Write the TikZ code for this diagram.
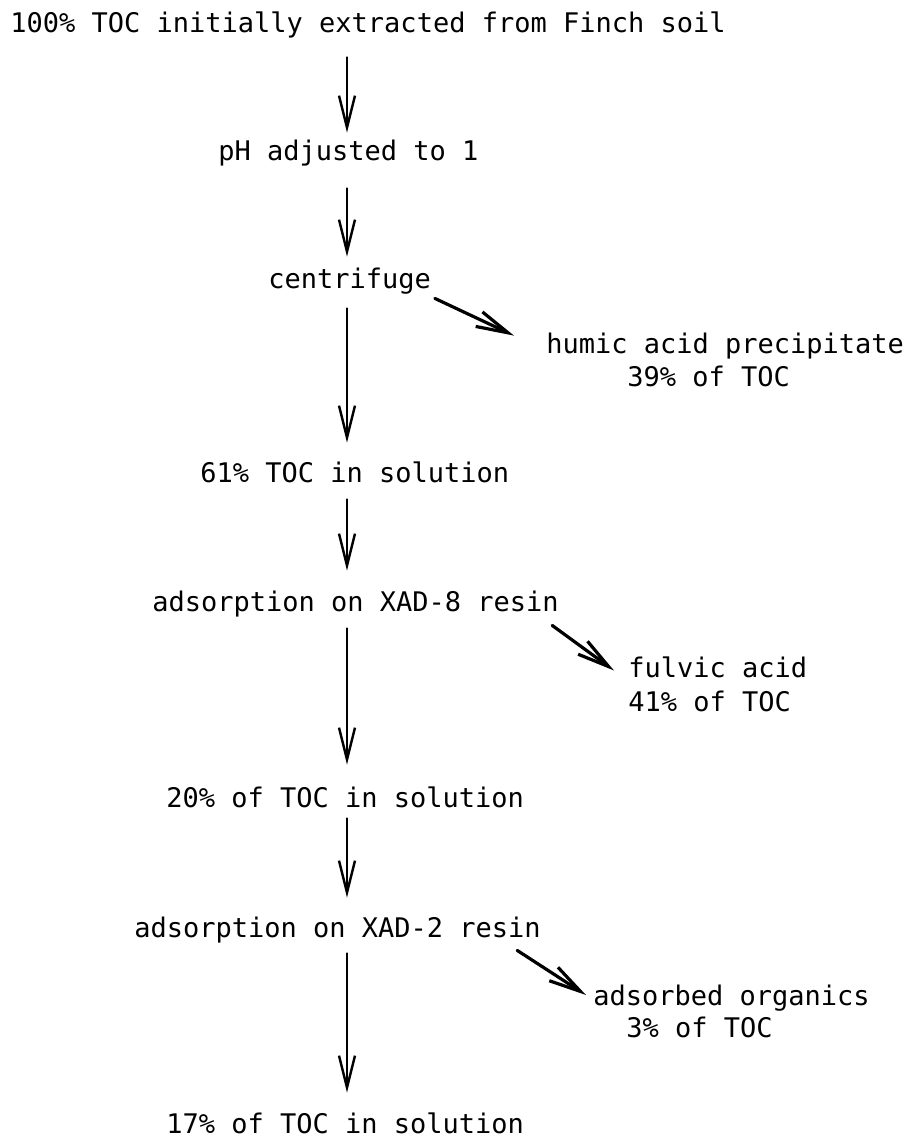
\documentclass[tikz,border=0pt]{standalone}
\usepackage{fontspec}
\setmainfont{DejaVu Sans Mono}
\usepackage{tikz}
\usetikzlibrary{arrows.meta}

\begin{document}
\begin{tikzpicture}[line cap=round,line join=round,>={Straight Barb[length=16pt,width=8pt]},x=0.5pt,y=-0.5pt,
  txt/.style={anchor=base west,inner sep=0pt,text height=10pt,text depth=3.5pt,font=\fontsize{13.5}{16}\selectfont},
  down/.style={->,line width=1.2pt,shorten <=5pt,shorten >=10pt},
  side/.style={->,line width=1.6pt}]
\useasboundingbox (0,0) rectangle (908,1141);
\coordinate (axis) at (347,0);
% main column
\node[txt] (toc) at (10,32) {100\% TOC initially extracted from Finch soil};
\node[txt] (ph) at (218,160) {pH adjusted to 1};
\node[txt] (cen) at (268,288) {centrifuge};
\node[txt] (sol61) at (200,482) {61\% TOC in solution};
\node[txt] (xad8) at (152,611) {adsorption on XAD-8 resin};
\node[txt] (sol20) at (166,807) {20\% of TOC in solution};
\node[txt] (xad2) at (134,937) {adsorption on XAD-2 resin};
\node[txt] (sol17) at (166,1133) {17\% of TOC in solution};
% side fractions
\node[txt] (humic) at (546,353) {humic acid precipitate};
\node[txt] (humicpct) at (627,386) {39\% of TOC};
\node[txt] (fulvic) at (628,677) {fulvic acid};
\node[txt] (fulvicpct) at (628,711) {41\% of TOC};
\node[txt] (org) at (593,1005) {adsorbed organics};
\node[txt] (orgpct) at (626,1037) {3\% of TOC};
% down the column
\draw[down,shorten <=9pt,shorten >=3.5pt] (toc.south -| axis) -- (ph.north -| axis);
\draw[down,shorten <=10.5pt,shorten >=5.5pt] (ph.south -| axis) -- (cen.north -| axis);
\draw[down,shorten <=6.5pt,shorten >=9.5pt] (cen.south -| axis) -- (sol61.north -| axis);
\draw[down] (sol61.south -| axis) -- (xad8.north -| axis);
\draw[down,shorten >=11pt] (xad8.south -| axis) -- (sol20.north -| axis);
\draw[down,shorten <=2pt,shorten >=9.5pt] (sol20.south -| axis) -- (xad2.north -| axis);
\draw[down,shorten <=4.5pt] (xad2.south -| axis) -- (sol17.north -| axis);
% off to the side
\draw[side] ([xshift=1.75pt,yshift=-1.5pt]cen.south east) -- ([xshift=-16pt,yshift=-1.5pt]humic.north west);
\draw[side] ([xshift=-3.5pt,yshift=-3.5pt]xad8.south east) -- ([xshift=-7pt]fulvic.west);
\draw[side] ([xshift=-12pt,yshift=-3pt]xad2.south east) -- ([xshift=-3.5pt,yshift=1.75pt]org.west);
\end{tikzpicture}
\end{document}
